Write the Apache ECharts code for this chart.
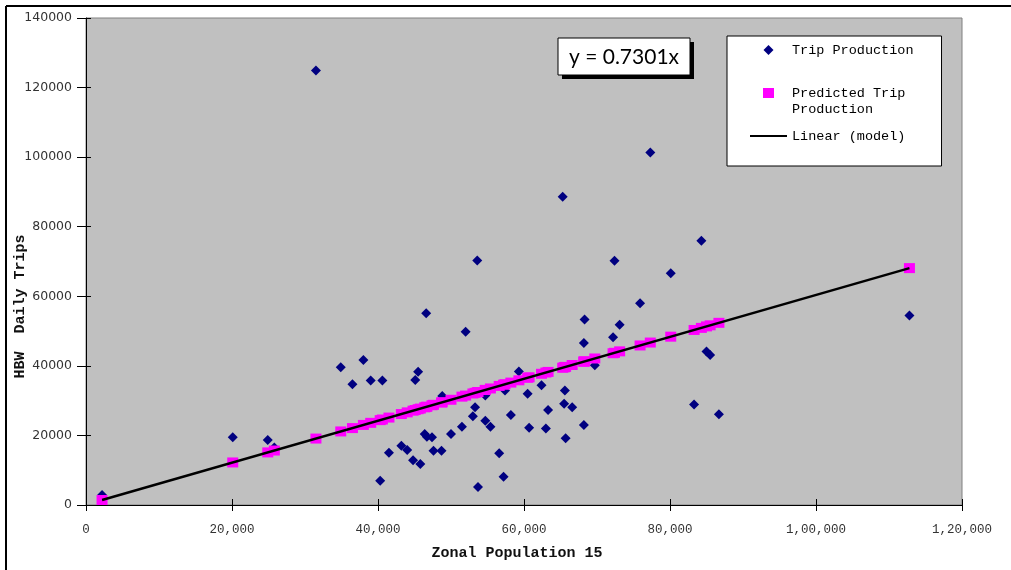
<!DOCTYPE html>
<html>
<head>
<meta charset="utf-8">
<script src="https://cdn.jsdelivr.net/npm/echarts@6/dist/echarts.min.js"></script>
<style>
html,body{margin:0;padding:0;background:#fff;}
#c{width:1011px;height:570px;}
</style>
</head>
<body>
<div id="c"></div>
<script>
// Zonal population (x) for each zone
const population = [2200, 20100, 24900, 25800, 31500, 34900, 36500, 38000, 39000, 40600,
  40300, 41500, 43200, 44000, 44800, 45800, 45500, 45100, 46600, 46400,
  46700, 47400, 47600, 48700, 48800, 50000, 51500, 52000, 53000, 53300,
  53600, 53700, 54700, 54700, 55400, 56600, 57200, 57400, 58200, 59300,
  60500, 60700, 62400, 63000, 63300, 65300, 65500, 65600, 65700, 66600,
  68200, 68200, 68300, 69700, 72200, 72400, 73100, 75900, 77300, 80100,
  83300, 84300, 85000, 85500, 86700, 112800];
// Observed HBW daily trips
const tripProduction = [2900, 19500, 18700, 16500, 124900, 39600, 34700, 41700, 35800, 35800,
  7000, 15000, 17000, 15800, 12900, 11800, 38300, 35900, 55100, 20400,
  19600, 19500, 15600, 15600, 31300, 20400, 22500, 49800, 25500, 28100,
  70300, 5200, 31500, 24200, 22500, 14900, 8100, 32900, 25900, 38400,
  32000, 22200, 34400, 22000, 27300, 88600, 29100, 32900, 19200, 28100,
  46600, 23000, 53300, 40200, 48200, 70200, 51800, 58000, 101300, 66600,
  28900, 76000, 44100, 43100, 26100, 54500];
// Predicted trip production (read from the magenta squares)
const predicted = [1440, 12230, 15120, 15660, 19100, 21150, 22110, 23020, 23620, 24580,
  24400, 25130, 26150, 26630, 27120, 27720, 27540, 27300, 28200, 28080,
  28260, 28680, 28800, 29470, 29530, 30250, 31150, 31450, 32060, 32240,
  32420, 32480, 33080, 33080, 33500, 34230, 34590, 34710, 35190, 35850,
  36580, 36700, 37720, 38080, 38260, 39470, 39590, 39650, 39710, 40250,
  41220, 41220, 41280, 42120, 43630, 43750, 44170, 45860, 46700, 48390,
  50320, 50920, 51340, 51650, 52370, 68100];
// Linear (model) trendline end points
const trendX = [2200, 112800];
const trendY = [1440, 68100];
// Axis tick labels
const xTickLabels = ['0', '20,000', '40,000', '60,000', '80,000', '1,00,000', '1,20,000'];
const equationText = 'y = 0.7301x';

const obsData = population.map((x, i) => [x, tripProduction[i]]);
const predData = population.map((x, i) => [x, predicted[i]]);
const trendData = trendX.map((x, i) => [x, trendY[i]]);

const chart = echarts.init(document.getElementById('c'), null, {renderer: 'canvas'});
const mono = '"Liberation Mono", "DejaVu Sans Mono", monospace';

// legend icons in a 37x10 box (leading moveTo points fix the bounding box)
const iconDiamond = 'path://M0,0 M37,10 M13.5,5 L18.5,0 L23.5,5 L18.5,10 Z';
const iconSquare = 'path://M0,0 M37,10 M13,0 L24,0 L24,10 L13,10 Z';
const iconLine = 'path://M0,0 M37,10 M0,3.9 L37,3.9 L37,6.1 L0,6.1 Z';

chart.setOption({
  animation: false,
  backgroundColor: '#ffffff',
  grid: {
    left: 86, right: 49, top: 18, bottom: 65,
    containLabel: false, outerBoundsMode: 'none',
    show: true, backgroundColor: '#C0C0C0', borderColor: '#808080', borderWidth: 1
  },
  xAxis: [{
    type: 'value', min: 0, max: 120000, interval: 20000,
    name: 'Zonal Population 15', nameLocation: 'middle', nameGap: 41, nameMoveOverlap: false,
    nameTextStyle: {fontFamily: mono, fontWeight: 'bold', fontSize: 15, color: '#111', padding: [0, 14, 0, 0]},
    axisLine: {show: true, lineStyle: {color: '#000', width: 1}},
    axisTick: {show: true, inside: false, length: 6, lineStyle: {color: '#000'}},
    axisLabel: {
      margin: 18, fontFamily: mono, fontSize: 12.5, color: '#333',
      formatter: v => xTickLabels[Math.round(v / 20000)]
    },
    splitLine: {show: false}
  }, {
    type: 'value', min: 0, max: 120000, interval: 20000, position: 'bottom',
    axisLine: {show: false},
    axisTick: {show: true, inside: true, length: 6, lineStyle: {color: '#000'}},
    axisLabel: {show: false}, splitLine: {show: false}
  }],
  yAxis: [{
    type: 'value', min: 0, max: 140000, interval: 20000,
    name: 'HBW  Daily Trips', nameLocation: 'middle', nameGap: 58, nameMoveOverlap: false,
    nameTextStyle: {fontFamily: mono, fontWeight: 'bold', fontSize: 15, color: '#111', padding: [0, 90, 0, 0]},
    axisLine: {show: true, lineStyle: {color: '#000', width: 1}},
    axisTick: {show: true, inside: false, length: 9, lineStyle: {color: '#000'}},
    axisLabel: {margin: 14, fontFamily: '"DejaVu Sans", sans-serif', fontSize: 12.5, color: '#333',
      formatter: v => String(v)},
    splitLine: {show: false}
  }, {
    type: 'value', min: 0, max: 140000, interval: 20000, position: 'left',
    axisLine: {show: false},
    axisTick: {show: true, inside: true, length: 5, lineStyle: {color: '#000'}},
    axisLabel: {show: false}, splitLine: {show: false}
  }],
  legend: {
    orient: 'vertical', left: 727, top: 36,
    padding: [6, 28, 22, 23], itemGap: 11,
    itemWidth: 37, itemHeight: 10,
    backgroundColor: '#ffffff', borderColor: '#000', borderWidth: 1,
    textStyle: {fontFamily: mono, fontSize: 13.5, color: '#000', lineHeight: 16},
    formatter: name => name === 'Predicted Trip Production' ? '\nPredicted Trip\nProduction' : name,
    data: [
      {name: 'Trip Production', icon: iconDiamond},
      {name: 'Predicted Trip Production', icon: iconSquare},
      {name: 'Linear (model)', icon: iconLine}
    ]
  },
  series: [{
    name: 'Trip Production', type: 'scatter', data: obsData,
    symbol: 'diamond', symbolSize: 10,
    itemStyle: {color: '#000080', opacity: 1}
  }, {
    name: 'Predicted Trip Production', type: 'scatter', data: predData,
    symbol: 'rect', symbolSize: [11, 10],
    itemStyle: {color: '#FF00FF', opacity: 1}
  }, {
    name: 'Linear (model)', type: 'line', data: trendData,
    symbol: 'none', showSymbol: false,
    lineStyle: {color: '#000', width: 2.5}, itemStyle: {color: '#000'}
  }],
  graphic: [
    {type: 'line', shape: {x1: 6, y1: 6, x2: 1011, y2: 6}, style: {stroke: '#000', lineWidth: 2}},
    {type: 'line', shape: {x1: 6, y1: 6, x2: 6, y2: 570}, style: {stroke: '#000', lineWidth: 2}},
    {type: 'rect', shape: {x: 562, y: 42, width: 132, height: 37}, style: {fill: '#000'}, z: 10},
    {type: 'rect', shape: {x: 558, y: 38, width: 132, height: 37}, style: {fill: '#fff', stroke: '#000', lineWidth: 1}, z: 11},
    {type: 'text', x: 624, y: 57, z: 12,
      style: {text: equationText, fill: '#000', font: '21px Lato, "Open Sans", sans-serif', align: 'center', verticalAlign: 'middle'}}
  ]
});
</script>
</body>
</html>
